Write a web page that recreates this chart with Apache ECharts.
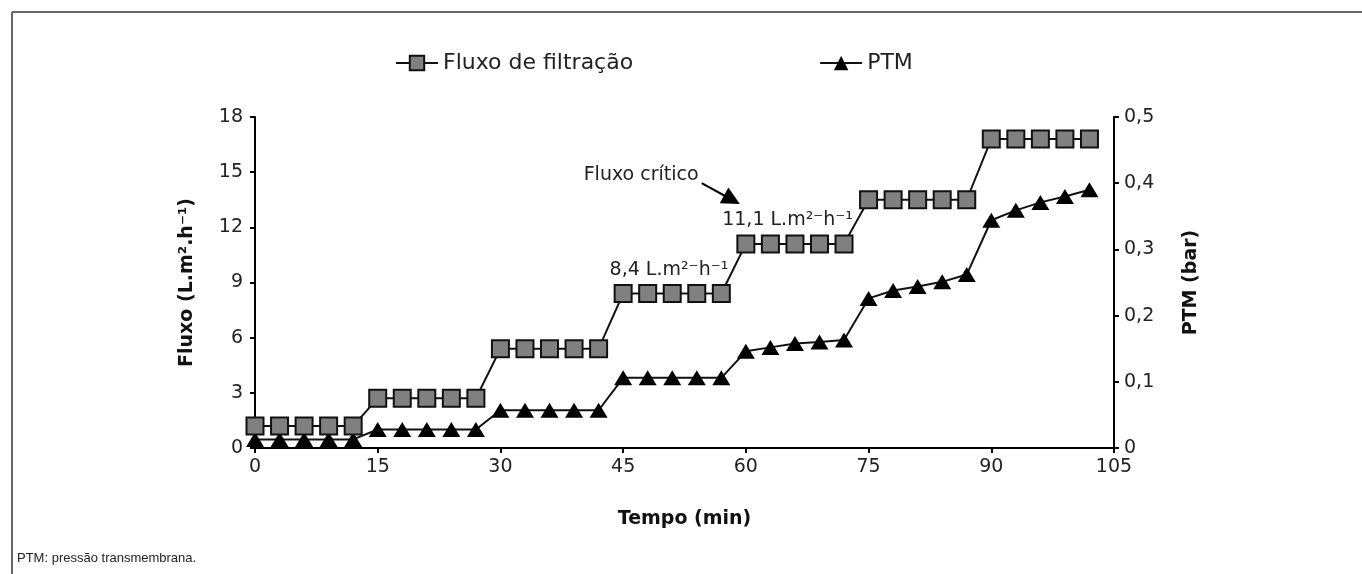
<!DOCTYPE html>
<html>
<head>
<meta charset="utf-8">
<script src="https://cdn.jsdelivr.net/npm/echarts@6/dist/echarts.min.js"></script>
<style>
html,body{margin:0;padding:0;background:#fff;}
#chart{width:1362px;height:574px;}
</style>
</head>
<body>
<div id="chart"></div>
<script>
var time = [0,3,6,9,12, 15,18,21,24,27, 30,33,36,39,42, 45,48,51,54,57, 60,63,66,69,72, 75,78,81,84,87, 90,93,96,99,102];
var flux = [1.2,1.2,1.2,1.2,1.2, 2.7,2.7,2.7,2.7,2.7, 5.4,5.4,5.4,5.4,5.4, 8.4,8.4,8.4,8.4,8.4, 11.1,11.1,11.1,11.1,11.1, 13.5,13.5,13.5,13.5,13.5, 16.8,16.8,16.8,16.8,16.8];
var ptm = [0.013,0.013,0.013,0.013,0.013, 0.028,0.028,0.028,0.028,0.028, 0.057,0.057,0.057,0.057,0.057, 0.106,0.106,0.106,0.106,0.106, 0.146,0.152,0.158,0.160,0.163, 0.226,0.238,0.244,0.251,0.262, 0.344,0.359,0.371,0.380,0.390];
var xTicks = {min:0, max:105, interval:15};
var fluxTicks = {min:0, max:18, interval:3};
var ptmTicks = {min:0, max:0.5, interval:0.1};
var seriesNames = ['Fluxo de filtração', 'PTM'];
var annotations = [
  {text:'Fluxo crítico', coord:[47.2, 14.85]},
  {text:'8,4 L.m²⁻h⁻¹', coord:[50.6, 9.7]},
  {text:'11,1 L.m²⁻h⁻¹', coord:[65.1, 12.4]}
];
var arrowFrom = [54.6, 14.4];
var arrowTo = [58.3, 13.5];

var FONT = 'DejaVu Sans';
var chart = echarts.init(document.getElementById('chart'), null, {renderer:'canvas'});
function pair(a,b){ return a.map(function(v,i){ return [v,b[i]]; }); }
var axisCommon = {
  axisLine:{show:true, lineStyle:{color:'#000', width:2}},
  axisTick:{show:true, length:5, lineStyle:{color:'#000', width:2}},
  splitLine:{show:false},
  axisLabel:{color:'#222', fontFamily:FONT, fontSize:19}
};
var option = {
  animation:false,
  backgroundColor:'#fff',
  textStyle:{fontFamily:FONT},
  grid:{left:255, right:248, top:117, bottom:126, containLabel:false},
  legend:{
    left:390, top:47, itemWidth:42, itemHeight:18, itemGap:186,
    textStyle:{fontFamily:FONT, fontSize:22, color:'#222'},
    data:seriesNames
  },
  xAxis:Object.assign({}, axisCommon, {
    type:'value', min:xTicks.min, max:xTicks.max, interval:xTicks.interval,
    name:'Tempo (min)', nameLocation:'middle', nameGap:62,
    nameTextStyle:{fontFamily:FONT, fontWeight:'bold', fontSize:19, color:'#111'},
    axisLabel:{color:'#222', fontFamily:FONT, fontSize:19, margin:10}
  }),
  yAxis:[
    Object.assign({}, axisCommon, {
      type:'value', position:'left', min:fluxTicks.min, max:fluxTicks.max, interval:fluxTicks.interval,
      name:'Fluxo (L.m².h⁻¹)', nameLocation:'middle', nameGap:58,
      nameTextStyle:{fontFamily:FONT, fontWeight:'bold', fontSize:19, color:'#111'},
      axisLabel:{color:'#222', fontFamily:FONT, fontSize:19, margin:12}
    }),
    Object.assign({}, axisCommon, {
      type:'value', position:'right', min:ptmTicks.min, max:ptmTicks.max, interval:ptmTicks.interval,
      name:'PTM (bar)', nameLocation:'middle', nameGap:68,
      nameTextStyle:{fontFamily:FONT, fontWeight:'bold', fontSize:19, color:'#111'},
      axisLabel:{color:'#222', fontFamily:FONT, fontSize:19, margin:10,
        formatter:function(v){ return v===0 ? '0' : v.toFixed(1).replace('.', ','); }}
    })
  ],
  series:[
    {
      name:seriesNames[0], type:'line', xAxisIndex:0, yAxisIndex:0,
      data:pair(time, flux),
      symbol:'rect', symbolSize:17,
      itemStyle:{color:'#808080', borderColor:'#111', borderWidth:2},
      lineStyle:{color:'#111', width:2},
      z:3,
      markPoint:{
        symbol:'circle', symbolSize:0, silent:true,
        label:{show:true, position:'inside', color:'#222', fontFamily:FONT, fontSize:19,
          formatter:function(p){ return p.name; }},
        data:annotations.map(function(a){ return {name:a.text, coord:a.coord}; })
      },
      markLine:{
        silent:true, symbol:['none','triangle'], symbolSize:[18,18],
        label:{show:false},
        lineStyle:{color:'#000', width:2, type:'solid'},
        data:[[{coord:arrowFrom},{coord:arrowTo}]]
      }
    },
    {
      name:seriesNames[1], type:'line', xAxisIndex:0, yAxisIndex:1,
      data:pair(time, ptm),
      symbol:'triangle', symbolSize:[18,15],
      itemStyle:{color:'#000', borderColor:'#000', borderWidth:0},
      lineStyle:{color:'#111', width:2},
      z:2
    }
  ],
  graphic:[
    {type:'line', shape:{x1:12, y1:12, x2:1362, y2:12}, style:{stroke:'#666', lineWidth:2}, silent:true},
    {type:'line', shape:{x1:12, y1:12, x2:12, y2:574}, style:{stroke:'#666', lineWidth:2}, silent:true},
    {type:'text', left:17, top:552, style:{text:'PTM: pressão transmembrana.', fill:'#222', font:'13px "Liberation Sans", Arial, sans-serif'}, silent:true}
  ]
};
chart.setOption(option);
</script>
</body>
</html>
